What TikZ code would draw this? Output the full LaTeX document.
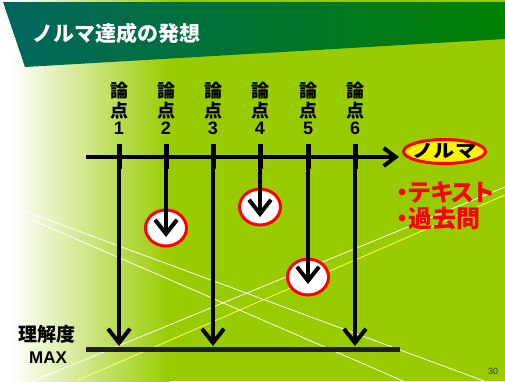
\documentclass[tikz,border=0pt]{standalone}
\usepackage{fontspec}
\setmainfont{Liberation Sans}
\newfontfamily\jp{Noto Sans CJK JP}[RawFeature=+palt]
\newfontfamily\jpf{Noto Sans CJK JP}
\usetikzlibrary{arrows.meta,shapes.geometric}
\definecolor{bg}{HTML}{99CC00}
\definecolor{hdl}{HTML}{00665E}
\definecolor{hdr}{HTML}{008000}
\definecolor{ylw}{HTML}{FFFF66}
\definecolor{pgn}{HTML}{333333}
\begin{document}
\begin{tikzpicture}[x=1pt,y=-1pt,
  lbl/.style={font=\jpf\bfseries\fontsize{18}{18}\selectfont, inner sep=0pt},
  num/.style={font=\bfseries\fontsize{18}{18}\selectfont, inner sep=0pt},
  arr/.style={line width=4pt, -{Straight Barb[length=14pt,width=22pt]}},
  tickmark/.style={line width=5pt},
  hit/.style={ellipse, draw=red, line width=3pt, fill=white, minimum width=41pt, minimum height=36pt, inner sep=0pt},
  redtxt/.style={anchor=west, text=red, inner sep=0pt, font=\jp\bfseries\fontsize{24}{24}\selectfont},
  diag/.style={line width=0.8pt},
]
\useasboundingbox (0,0) rectangle (505,381);
% background
\fill[bg] (0,0) rectangle (505,381);
\fill[white] (0,0) rectangle (12,381);
\shade[left color=white, right color=bg] (12,0) rectangle (170,381);
% diagonal lines
\draw[diag, white] (0,202) -- (484,381);
\draw[diag, white] (0,206) -- (403,381);
\draw[diag, white] (33,381) -- (505,187);
\draw[diag, ylw] (76,381) -- (505,195);
% header
\shade[left color=hdl, right color=hdr] (3,2) -- (505,2) -- (505,39) -- (25,67) -- cycle;
\node[font=\jpf\bfseries\fontsize{21}{21}\selectfont, text=white, anchor=west, inner sep=0pt] (title) at (32,33) {ノルマ達成の発想};
% column labels
\foreach \i/\x in {1/119,2/166,3/213,4/260,5/308,6/355} {
  \node[lbl] (ron\i) at (\x,91) {論};
  \node[lbl] (ten\i) at (\x,111) {点};
  \node[num] (num\i) at (\x,128) {\i};
  \coordinate (top\i) at (\x,144);
  \coordinate (tk\i) at (\x,169);
}
% axis
\coordinate (axL) at (86,157);
\coordinate (axR) at (399,157);
\draw[line width=4pt, -{Straight Barb[length=12pt,width=18pt]}] (axL) -- (axR);
% bottom line
\coordinate (maxL) at (86,349);
\coordinate (maxR) at (400,349);
\draw[line width=5pt, black!88] (maxL) -- (maxR);
% circles
\node[hit] (c2) at (166,228) {};
\node[hit] (c4) at (260,207) {};
\node[hit] (c5) at (308,277) {};
% arrow ends
\coordinate (e1) at (119,346);
\coordinate (e2) at (166,237);
\coordinate (e3) at (213,346);
\coordinate (e4) at (260,217);
\coordinate (e5) at (308,284);
\coordinate (e6) at (355,346);
\foreach \i in {1,...,6} {
  \draw[arr] (top\i) -- (e\i);
  \draw[tickmark] (top\i) -- (tk\i);
}
% norma
\node[ellipse, draw=red, line width=3pt, fill=yellow, minimum width=82pt, minimum height=24pt, inner sep=0pt,
  label={[font=\jpf\bfseries\fontsize{18}{18}\selectfont, inner sep=0pt]center:\scalebox{1.18}[1]{ノルマ}}] (norma) at (444.5,151.5) {};
\node[redtxt] (tx1) at (396,192) {・テキスト};
\node[redtxt] (tx2) at (396,218) {・過去問};
% left labels
\node[font=\jpf\bfseries\fontsize{19}{19}\selectfont, inner sep=0pt] (rikai) at (47,334) {理解度};
\node[font=\bfseries\fontsize{17}{17}\selectfont, inner sep=0pt] (max) at (48,358) {MAX};
% page number
\node[font=\fontsize{9}{9}\selectfont, text=pgn, inner sep=0pt] (pg) at (493,371) {30};
\end{tikzpicture}
\end{document}
